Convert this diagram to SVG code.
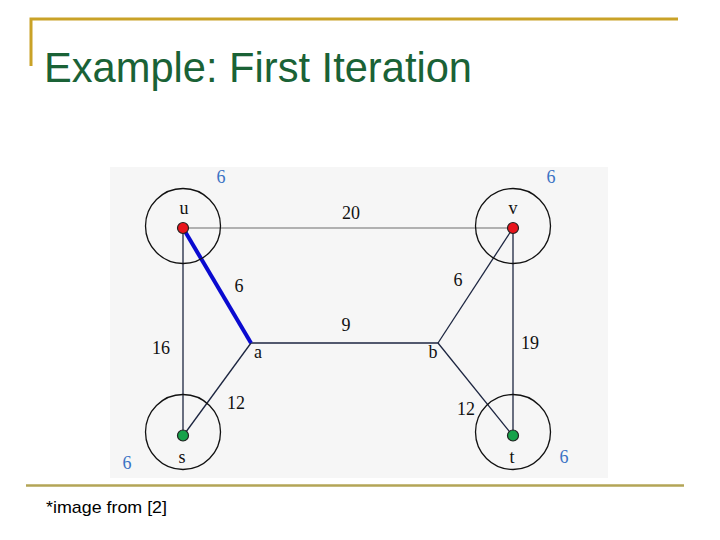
<svg xmlns="http://www.w3.org/2000/svg" width="720" height="540" viewBox="0 0 720 540">
<style>
.lbl{font-family:"Liberation Serif","DejaVu Serif",serif;font-size:18px;fill:#111;text-anchor:middle}
.w{font-family:"Liberation Serif","DejaVu Serif",serif;font-size:18px;fill:#3a72c4;text-anchor:middle}
.edge{stroke:#1c2540;stroke-width:1.3;fill:none}
.ring{fill:none;stroke:#111;stroke-width:1.3}
</style>
<rect width="720" height="540" fill="#fff"/>
<g id="frame">
<path d="M31 66 V19 H678" fill="none" stroke="#c9a227" stroke-width="3"/>
<line x1="26" y1="485.5" x2="684" y2="485.5" stroke="#b3a556" stroke-width="2.5"/>
<text x="44" y="82" font-family="Liberation Sans, Arial, sans-serif" font-size="42" fill="#1a6236" textLength="428" lengthAdjust="spacingAndGlyphs">Example: First Iteration</text>
<text x="46" y="513" font-family="Liberation Sans, Arial, sans-serif" font-size="17" fill="#000" textLength="121" lengthAdjust="spacingAndGlyphs">*image from [2]</text>
</g>
<rect x="110" y="167" width="498" height="311" fill="#f6f6f6"/>
<g id="connectors">
<line class="edge" x1="183" y1="228" x2="513" y2="228" style="stroke:#9a9a9a"/>
<line class="edge" x1="183" y1="228" x2="183" y2="436"/>
<line class="edge" x1="251" y1="343" x2="183" y2="436"/>
<line class="edge" x1="251" y1="343" x2="438" y2="343"/>
<line class="edge" x1="438" y1="343" x2="513" y2="228"/>
<line class="edge" x1="513" y1="228" x2="513" y2="436"/>
<line class="edge" x1="438" y1="343" x2="513" y2="436"/>
<line x1="183" y1="228" x2="251" y2="343" stroke="#0a0ad0" stroke-width="4"/>
</g>
<g id="node-u">
<circle class="ring" cx="183" cy="226" r="37.5"/>
<circle cx="183" cy="228" r="5.5" fill="#e8141c" stroke="#222" stroke-width="1.2"/>
<text class="lbl" x="184" y="214">u</text>
<text class="w" x="221" y="183">6</text>
</g>
<g id="node-v">
<circle class="ring" cx="513" cy="226" r="37.5"/>
<circle cx="513" cy="228" r="5.5" fill="#e8141c" stroke="#222" stroke-width="1.2"/>
<text class="lbl" x="513" y="214">v</text>
<text class="w" x="551" y="183">6</text>
</g>
<g id="node-s">
<circle class="ring" cx="183" cy="432" r="37.5"/>
<circle cx="183" cy="435.5" r="5.5" fill="#17a24a" stroke="#222" stroke-width="1.2"/>
<text class="lbl" x="182" y="463">s</text>
<text class="w" x="127" y="469">6</text>
</g>
<g id="node-t">
<circle class="ring" cx="513" cy="432" r="37.5"/>
<circle cx="513" cy="435.5" r="5.5" fill="#17a24a" stroke="#222" stroke-width="1.2"/>
<text class="lbl" x="512" y="463">t</text>
<text class="w" x="564" y="463">6</text>
</g>
<g id="node-a">
<text class="lbl" x="258" y="358">a</text>
</g>
<g id="node-b">
<text class="lbl" x="433" y="358">b</text>
</g>
<g id="edge-labels">
<text class="lbl" x="351" y="219">20</text>
<text class="lbl" x="239" y="292">6</text>
<text class="lbl" x="458" y="286">6</text>
<text class="lbl" x="346" y="331">9</text>
<text class="lbl" x="161" y="354">16</text>
<text class="lbl" x="530" y="349">19</text>
<text class="lbl" x="236" y="409">12</text>
<text class="lbl" x="466" y="415">12</text>
</g>
</svg>
